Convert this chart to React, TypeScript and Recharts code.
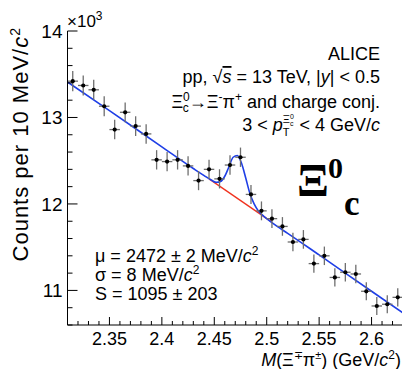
import { ComposedChart, XAxis, YAxis, Scatter, Line, ErrorBar } from 'recharts'

// invariant mass bin centres (GeV/c^2) and counts (x10^3 per 10 MeV/c^2)
const binCenters = [
  2.315, 2.325, 2.335, 2.345, 2.355, 2.365, 2.375, 2.385, 2.395, 2.405, 2.415, 2.425, 2.435, 2.445, 2.455, 2.465,
  2.475, 2.485, 2.495, 2.505, 2.515, 2.525, 2.535, 2.545, 2.555, 2.565, 2.575, 2.585, 2.595, 2.605, 2.615, 2.625,
]
const counts = [
  13.42, 13.37, 13.32, 13.13, 12.86, 13.06, 12.9, 12.81, 12.51, 12.49, 12.51, 12.44, 12.27, 12.4, 12.29, 12.45,
  12.54, 12.11, 11.92, 11.83, 11.74, 11.56, 11.59, 11.31, 11.4, 11.15, 11.21, 11.19, 10.99, 10.82, 10.84, 10.92,
]
const countErrs = [
  0.116, 0.116, 0.115, 0.115, 0.113, 0.114, 0.114, 0.113, 0.112, 0.112, 0.112, 0.112, 0.111, 0.111, 0.111, 0.112,
  0.112, 0.11, 0.109, 0.109, 0.108, 0.108, 0.108, 0.106, 0.107, 0.106, 0.106, 0.106, 0.105, 0.104, 0.104, 0.105,
]
const binHalfWidth = 0.005

// total fit (signal + background)
const fitX = [2.31, 2.35, 2.4, 2.43, 2.44, 2.448, 2.452, 2.456, 2.46, 2.464, 2.468, 2.472, 2.476, 2.48, 2.484, 2.488, 2.492, 2.496, 2.5, 2.51, 2.52, 2.55, 2.6, 2.63]
const fitY = [13.41, 13.08, 12.66, 12.41, 12.33, 12.27, 12.25, 12.26, 12.32, 12.43, 12.54, 12.56, 12.47, 12.3, 12.12, 12.0, 11.92, 11.87, 11.83, 11.74, 11.66, 11.41, 10.99, 10.74]

// background only, red segment under the peak
const bkgX = [2.445, 2.505]
const bkgY = [12.29, 11.79]

const xTicks = [
  2.31, 2.32, 2.33, 2.34, 2.35, 2.36, 2.37, 2.38, 2.39, 2.4, 2.41, 2.42, 2.43, 2.44, 2.45, 2.46, 2.47,
  2.48, 2.49, 2.5, 2.51, 2.52, 2.53, 2.54, 2.55, 2.56, 2.57, 2.58, 2.59, 2.6, 2.61, 2.62, 2.63,
]
const yTicks = [10.6, 10.8, 11, 11.2, 11.4, 11.6, 11.8, 12, 12.2, 12.4, 12.6, 12.8, 13, 13.2, 13.4, 13.6, 13.8, 14]

const points = binCenters.map((x, i) => ({ x, y: counts[i], ey: countErrs[i], ex: binHalfWidth }))
const fit = fitX.map((x, i) => ({ x, y: fitY[i] }))
const bkg = bkgX.map((x, i) => ({ x, y: bkgY[i] }))

const FONT = '"Liberation Sans", Arial, Helvetica, sans-serif'
const SERIF = '"Liberation Serif", "Times New Roman", serif'

const isMajorX = (v: number) => Math.round(v * 100) % 5 === 0
const isMajorY = (v: number) => Math.abs(v - Math.round(v)) < 1e-6

const BottomTick = ({ x, y, payload }: any) => {
  const major = isMajorX(payload.value)
  return (
    <g>
      <line x1={x} y1={y} x2={x} y2={y - (major ? 8 : 4)} stroke="#000" strokeWidth={1} />
      {major && (
        <text x={x} y={y + 20} textAnchor="middle" fontSize={18} fontFamily={FONT} fill="#000">
          {String(Number(payload.value.toFixed(2)))}
        </text>
      )}
    </g>
  )
}

const TopTick = ({ x, y, payload }: any) => {
  const major = isMajorX(payload.value)
  return <line x1={x} y1={y} x2={x} y2={y + (major ? 8 : 4)} stroke="#000" strokeWidth={1} />
}

const LeftTick = ({ x, y, payload }: any) => {
  const major = isMajorY(payload.value)
  return (
    <g>
      <line x1={x} y1={y} x2={x + (major ? 10 : 5)} y2={y} stroke="#000" strokeWidth={1} />
      {major && (
        <text x={x - 5} y={y + 7} textAnchor="end" fontSize={19} fontFamily={FONT} fill="#000">
          {String(Math.round(payload.value))}
        </text>
      )}
    </g>
  )
}

const RightTick = ({ x, y, payload }: any) => {
  const major = isMajorY(payload.value)
  return <line x1={x} y1={y} x2={x - (major ? 10 : 5)} y2={y} stroke="#000" strokeWidth={1} />
}

const Dot = (props: any) => <circle cx={props.cx} cy={props.cy} r={2.1} fill="#000" />

export default function App() {
  return (
    <div style={{ position: 'absolute', left: 0, top: 0, width: 402, height: 369, overflow: 'hidden', background: '#fff' }}>
      <ComposedChart width={403} height={369} margin={{ top: 31, right: 0, left: 0, bottom: 0 }}>
        <XAxis
          dataKey="x" type="number" domain={[2.31, 2.63]} ticks={xTicks} interval={0}
          allowDataOverflow tickSize={0} tickMargin={0} height={44}
          axisLine={{ stroke: '#000' }} tick={<BottomTick />}
        />
        <XAxis
          xAxisId="top" orientation="top" dataKey="x" type="number" domain={[2.31, 2.63]} ticks={xTicks}
          interval={0} allowDataOverflow tickSize={0} tickMargin={0} height={0}
          axisLine={{ stroke: '#000' }} tick={<TopTick />}
        />
        <YAxis
          dataKey="y" type="number" domain={[10.6, 14]} ticks={yTicks} interval={0}
          allowDataOverflow tickSize={0} tickMargin={0} width={67.5}
          axisLine={{ stroke: '#000' }} tick={<LeftTick />}
        />
        <YAxis
          yAxisId="right" orientation="right" type="number" domain={[10.6, 14]} ticks={yTicks}
          interval={0} allowDataOverflow tickSize={0} tickMargin={0} width={0}
          axisLine={{ stroke: '#000' }} tick={<RightTick />}
        />
        <Line data={bkg} dataKey="y" type="linear" stroke="#f0321e" strokeWidth={1.3} dot={false} isAnimationActive={false} />
        <Line data={fit} dataKey="y" type="monotone" stroke="#1f3fe6" strokeWidth={1.6} dot={false} isAnimationActive={false} />
        <Scatter data={points} dataKey="y" shape={<Dot />} isAnimationActive={false}>
          <ErrorBar dataKey="ey" direction="y" width={0} stroke="#6e6e6e" strokeWidth={1.3} />
          <ErrorBar dataKey="ex" direction="x" width={0} stroke="#6e6e6e" strokeWidth={1.3} />
        </Scatter>
      </ComposedChart>

      <svg width={402} height={369} style={{ position: 'absolute', left: 0, top: 0, pointerEvents: 'none' }}>
        <g fontFamily={FONT} fill="#000">
          <text x={67} y={27} fontSize={17}>
            ×10<tspan fontSize={12} dy={-7}>3</tspan>
          </text>

          <text x={380} y={60} textAnchor="end" fontSize={18}>ALICE</text>
          <text x={380} y={83} textAnchor="end" fontSize={18}>
            pp, √<tspan fontStyle="italic" textDecoration="overline">s</tspan> = 13 TeV, |<tspan fontStyle="italic">y</tspan>| {'<'} 0.5
          </text>
          <text x={380} y={108} textAnchor="end" fontSize={18}>
            Ξ<tspan fontSize={12} dy={-7}>0</tspan>
            <tspan fontSize={12} dx={-7} dy={11}>c</tspan>
            <tspan dy={-4}>→Ξ</tspan>
            <tspan fontSize={12} dy={-7}>-</tspan>
            <tspan dy={7}>π</tspan>
            <tspan fontSize={12} dy={-7}>+</tspan>
            <tspan dy={7}> and charge conj.</tspan>
          </text>
          <text x={380} y={131} textAnchor="end" fontSize={18}>
            3 {'<'} <tspan fontStyle="italic">p</tspan>
            <tspan fontSize={11} dy={-8}>Ξ</tspan>
            <tspan fontSize={7} dy={-4}>0</tspan>
            <tspan fontSize={7} dx={-4} dy={7}>c</tspan>
            <tspan fontSize={11} dx={-10.7} dy={10}>T</tspan>
            <tspan dx={5} dy={-5}> {'<'} 4 GeV/</tspan>
            <tspan fontStyle="italic">c</tspan>
          </text>

          <text x={95} y={262} fontSize={18}>
            μ = 2472 ± 2 MeV/<tspan fontStyle="italic">c</tspan><tspan fontSize={12} dy={-7}>2</tspan>
          </text>
          <text x={95} y={281} fontSize={18}>
            σ = 8 MeV/<tspan fontStyle="italic">c</tspan><tspan fontSize={12} dy={-7}>2</tspan>
          </text>
          <text x={95} y={300} fontSize={18}>S = 1095 ± 203</text>

          <text x={401} y={366} textAnchor="end" fontSize={18}>
            <tspan fontStyle="italic">M</tspan>(Ξ<tspan fontSize={11} dy={-7}>∓</tspan>
            <tspan dy={7}>π</tspan><tspan fontSize={11} dy={-7}>±</tspan>
            <tspan dy={7}>) (GeV/</tspan><tspan fontStyle="italic">c</tspan>
            <tspan fontSize={12} dy={-7}>2</tspan><tspan dy={7}>)</tspan>
          </text>

          <text transform="translate(28, 27) rotate(-90)" textAnchor="end" fontSize={22} letterSpacing={1}>
            Counts per 10 MeV/<tspan fontStyle="italic">c</tspan><tspan fontSize={14} dy={-8}>2</tspan>
          </text>
        </g>
        <g fontFamily={SERIF} fontWeight="bold" fill="#000">
          <text x={297} y={196} fontSize={47}>Ξ</text>
          <text x={328} y={178} fontSize={30}>0</text>
          <text x={344} y={215} fontSize={35}>c</text>
        </g>
      </svg>
    </div>
  )
}
